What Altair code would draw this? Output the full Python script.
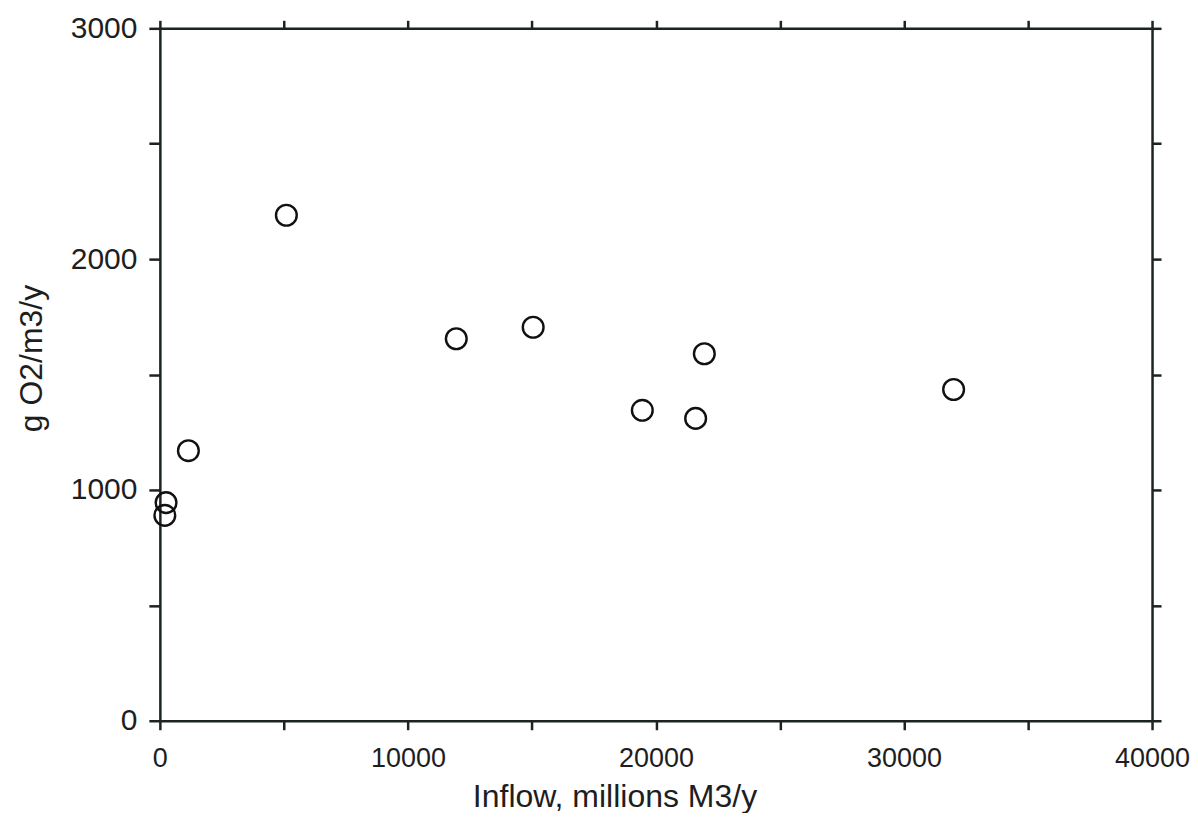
import altair as alt
import pandas as pd

inflow = [200, 250, 1150, 5100, 11950, 15050, 19450, 21600, 21950, 32000]
o2 = [890, 945, 1170, 2190, 1655, 1705, 1345, 1310, 1590, 1435]

x_ticks = [0, 5000, 10000, 15000, 20000, 25000, 30000, 35000, 40000]
y_ticks = [0, 500, 1000, 1500, 2000, 2500, 3000]

df = pd.DataFrame({"inflow": inflow, "o2": o2})

FONT = "Liberation Sans"
INK = "#1c2420"
TXT = "#1e1e1e"

xscale = alt.Scale(domain=[0, 40000], nice=False, zero=True)
yscale = alt.Scale(domain=[0, 3000], nice=False, zero=True)

base = alt.Chart(df)

points = base.mark_point(
    shape="circle", size=430, filled=False, stroke="#111111", strokeWidth=2.4, opacity=1
).encode(
    x=alt.X("inflow:Q", scale=xscale, axis=alt.Axis(
        orient="bottom", values=x_ticks, title="Inflow, millions M3/y",
        labelExpr="datum.value % 10000 == 0 ? datum.value : ''",
        tickSize=9, tickWidth=2.5, tickColor=INK, domainColor=INK, domainWidth=2.5,
        labelFont=FONT, labelFontSize=27, labelColor=TXT, labelPadding=16,
        titleFont=FONT, titleFontSize=32, titleFontWeight="normal", titleColor=TXT,
        titlePadding=10, titleX=455, grid=False, labelFlush=False)),
    y=alt.Y("o2:Q", scale=yscale, axis=alt.Axis(
        orient="left", values=y_ticks, title="g O2/m3/y",
        labelExpr="datum.value % 1000 == 0 ? datum.value : ''",
        tickSize=11, tickWidth=2.5, tickColor=INK, domainColor=INK, domainWidth=2.5,
        labelFont=FONT, labelFontSize=30, labelColor=TXT, labelPadding=12,
        titleFont=FONT, titleFontSize=32, titleFontWeight="normal", titleColor=TXT,
        titlePadding=22, titleY=330, grid=False, labelFlush=False)),
)

frame = base.mark_point(opacity=0).encode(
    x=alt.X("inflow:Q", scale=xscale, axis=alt.Axis(
        orient="top", values=x_ticks, labels=False, title=None,
        tickSize=8, tickWidth=2.5, tickColor=INK, domainColor=INK, domainWidth=2.5,
        grid=False)),
    y=alt.Y("o2:Q", scale=yscale, axis=alt.Axis(
        orient="right", values=y_ticks, labels=False, title=None,
        tickSize=9, tickWidth=2.5, tickColor=INK, domainColor=INK, domainWidth=2.5,
        grid=False)),
)

chart = alt.layer(points, frame).resolve_axis(
    x="independent", y="independent"
).properties(
    width=993, height=693,
    autosize=alt.AutoSizeParams(type="none"),
    padding={"left": 152, "top": 20, "right": 38, "bottom": 92},
    background="white",
).configure_view(stroke=None)

chart.save("out.html", embed_options={"renderer": "svg", "actions": False})
